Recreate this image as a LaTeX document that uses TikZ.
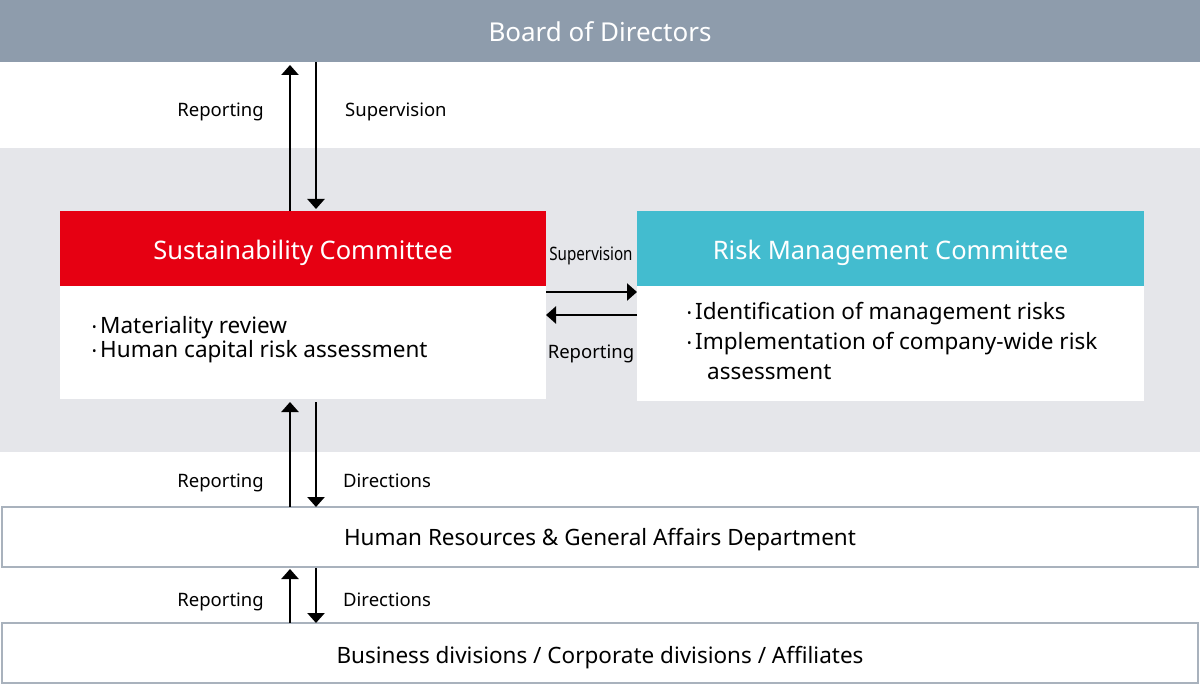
\documentclass[tikz,border=0pt]{standalone}
\usepackage{fontspec}
\setmainfont{Noto Sans}
\usetikzlibrary{arrows.meta,calc}
\definecolor{boardgray}{HTML}{8E9CAC}
\definecolor{panelgray}{HTML}{E5E6EA}
\definecolor{susred}{HTML}{E60012}
\definecolor{riskcyan}{HTML}{43BCCF}
\definecolor{lineg}{HTML}{A9B2BD}
\newcommand{\bul}{{\fontsize{12bp}{12bp}\selectfont\raisebox{1.5bp}{•}}\kern3.5bp}
\tikzset{
  blk/.style={rectangle, inner sep=0pt, outer sep=0pt, anchor=north west},
  arr/.style={line width=2.5bp, -{Triangle[width=17bp,length=10bp]}},
  lbl/.style={inner sep=0pt, font=\fontsize{18.5bp}{22bp}\selectfont},
  headtxt/.style={inner sep=0pt, anchor=base, text=white, font=\fontsize{25.5bp}{30bp}\selectfont},
  bodytxt/.style={inner sep=0pt, anchor=base west, font=\fontsize{22.5bp}{27bp}\selectfont},
  bartxt/.style={inner sep=0pt, anchor=base, font=\fontsize{22.5bp}{27bp}\selectfont}
}
\begin{document}
\begin{tikzpicture}[x=1bp,y=-1bp]
\useasboundingbox (0,0) rectangle (1200,688);
\fill[white] (0,0) rectangle (1200,688);
% boxes
\node[blk, fill=boardgray, minimum width=1200bp, minimum height=62bp] (board) at (0,0) {};
\node[blk, fill=panelgray, minimum width=1200bp, minimum height=304bp] (panel) at (0,148) {};
\node[blk, fill=susred, minimum width=486bp, minimum height=75bp] (sushead) at (60,211) {};
\node[blk, fill=white, minimum width=486bp, minimum height=113bp] (susbody) at (60,286) {};
\node[blk, fill=riskcyan, minimum width=507bp, minimum height=75bp] (riskhead) at (637,211) {};
\node[blk, fill=white, minimum width=507bp, minimum height=115bp] (riskbody) at (637,286) {};
\node[blk, draw=lineg, line width=1.2bp, fill=white, minimum width=1196bp, minimum height=60bp] (hr) at (2,507) {};
\node[blk, draw=lineg, line width=1.2bp, fill=white, minimum width=1196bp, minimum height=60bp] (biz) at (2,623) {};
% titles
\node[headtxt, font=\fontsize{26bp}{30bp}\selectfont] (boardtxt) at (600,41.5) {Board of Directors};
\node[headtxt] (sustitle) at (303,259) {Sustainability Committee};
\node[headtxt] (risktitle) at (890.5,259) {Risk Management Committee};
\node[bartxt] (hrtxt) at (600,545) {Human Resources \& General Affairs Department};
\node[bartxt] (biztxt) at (600,663) {Business divisions / Corporate divisions / Affiliates};
% body texts
\node[bodytxt] (sus1) at (92,333.3) {\bul Materiality review};
\node[bodytxt] (sus2) at (92,357.3) {\bul Human capital risk assessment};
\node[bodytxt] (risk1) at (687,319) {\bul Identification of management risks};
\node[bodytxt] (risk2) at (687,349) {\bul Implementation of company-wide risk};
\node[bodytxt] (risk3) at (707,379) {assessment};
% connectors
\coordinate (ax) at (290,0);
\coordinate (bx) at (316,0);
\coordinate (hy1) at (0,292);
\coordinate (hy2) at (0,315);
\draw[arr, shorten >=3bp] (sushead.north -| ax) -- (board.south -| ax);
\draw[arr, shorten >=2bp] (board.south -| bx) -- (sushead.north -| bx);
\draw[arr] (susbody.east |- hy1) -- (riskbody.west |- hy1);
\draw[arr] (riskbody.west |- hy2) -- (susbody.east |- hy2);
\draw[arr, shorten >=3bp] (hr.north -| ax) -- (susbody.south -| ax);
\draw[arr, shorten <=3bp] (susbody.south -| bx) -- (hr.north -| bx);
\draw[arr, shorten >=2bp] (biz.north -| ax) -- (hr.south -| ax);
\draw[arr, shorten <=1bp] (hr.south -| bx) -- (biz.north -| bx);
% labels
\node[lbl, anchor=base east] (l1) at (264,117) {Reporting};
\node[lbl, anchor=base west] (l2) at (345,117) {Supervision};
\node[lbl, anchor=base] (l3) at (591,260) {\scalebox{0.82}[1]{Supervision}};
\node[lbl, anchor=base] (l4) at (591,358) {Reporting};
\node[lbl, anchor=base east] (l5) at (264,487) {Reporting};
\node[lbl, anchor=base west] (l6) at (343,487) {Directions};
\node[lbl, anchor=base east] (l7) at (264,606) {Reporting};
\node[lbl, anchor=base west] (l8) at (343,606) {Directions};
\end{tikzpicture}
\end{document}
